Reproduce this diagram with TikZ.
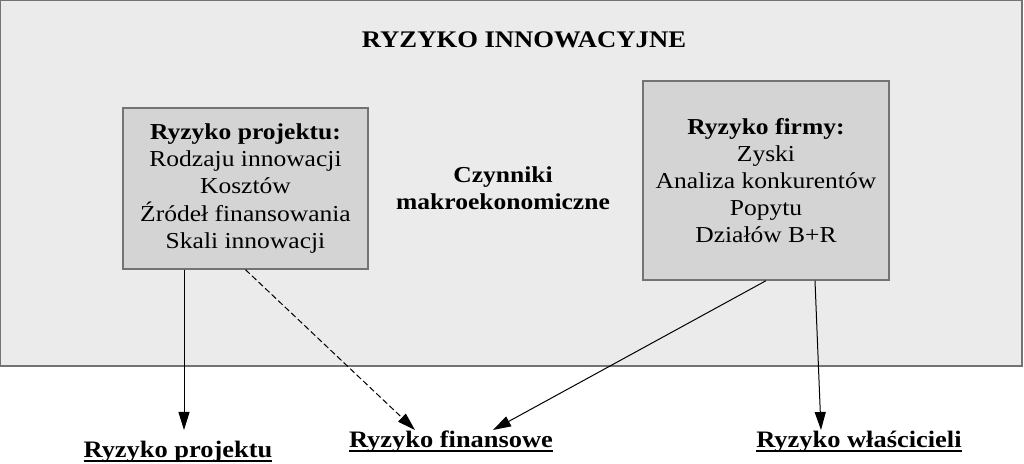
\documentclass[tikz,border=0pt]{standalone}
\usepackage{fontspec}
\setmainfont[FakeStretch=1.12]{Liberation Serif}
\usetikzlibrary{arrows.meta,positioning}
\tikzset{>={Triangle[length=9pt,width=5.5pt]}}
\colorlet{outerfill}{black!8}
\colorlet{boxfill}{black!17}
\colorlet{edgegray}{black!55}
\newcommand{\wordul}[1]{\setbox0\hbox{#1}\rlap{\rule[-2pt]{\wd0}{0.8pt}}\box0}
\tikzset{
  riskbox/.style={draw=edgegray, line width=0.7pt, fill=boxfill, minimum width=122.5pt,
    minimum height=80.5pt, align=center, font=\fontsize{11.4}{13.6}\selectfont},
  risklabel/.style={font=\fontsize{11.8}{13.5}\selectfont\bfseries, inner sep=0pt, anchor=base},
  link/.style={->, line width=0.5pt}
}

\begin{document}
\begin{tikzpicture}[x=0.5pt,y=-0.5pt]
        \useasboundingbox (0,0) rectangle (1024,464);
        \draw[draw=edgegray, fill=outerfill, line width=0.7pt] (0.7,0.7) rectangle (1022,366);
        \node[font=\fontsize{11.9}{13.5}\selectfont\bfseries] (title) at (524,40) {RYZYKO INNOWACYJNE};
        \node[riskbox] (proj) at (245.5,188.5) {\textbf{Ryzyko projektu:}\\Rodzaju innowacji\\Kosztów\\Źródeł finansowania\\Skali innowacji};
        \node[riskbox, minimum width=123pt, minimum height=99.5pt] (firm) at (766,180.5) {\textbf{Ryzyko firmy:}\\Zyski\\Analiza konkurentów\\Popytu\\Działów B+R};
        \node[align=center, font=\fontsize{11.4}{13.6}\selectfont\bfseries] (macro) at (503,188) {Czynniki\\makroekonomiczne};
        % ryzyka wynikowe
        \node[risklabel] (rproj) at (178,458) {\wordul{Ryzyko projektu}};
        \node[risklabel] (rfin) at (451,448) {\wordul{Ryzyko finansowe}};
        \node[risklabel] (rwl) at (859,448) {\wordul{Ryzyko właścicieli}};
        \coordinate (tproj) at (184,430);
        \coordinate (tfin1) at (415,430);
        \coordinate (tfin2) at (493,430);
        \coordinate (twl) at (821,430);
        \draw[link] (proj.south -| tproj) -- (tproj);
        \draw[link, dashed, dash pattern=on 3pt off 1.5pt] (proj.south) -- (tfin1);
        \draw[link] (firm.south) -- (tfin2);
        \draw[link] ([xshift=24.5pt]firm.south) -- (twl);
\end{tikzpicture}
\end{document}
